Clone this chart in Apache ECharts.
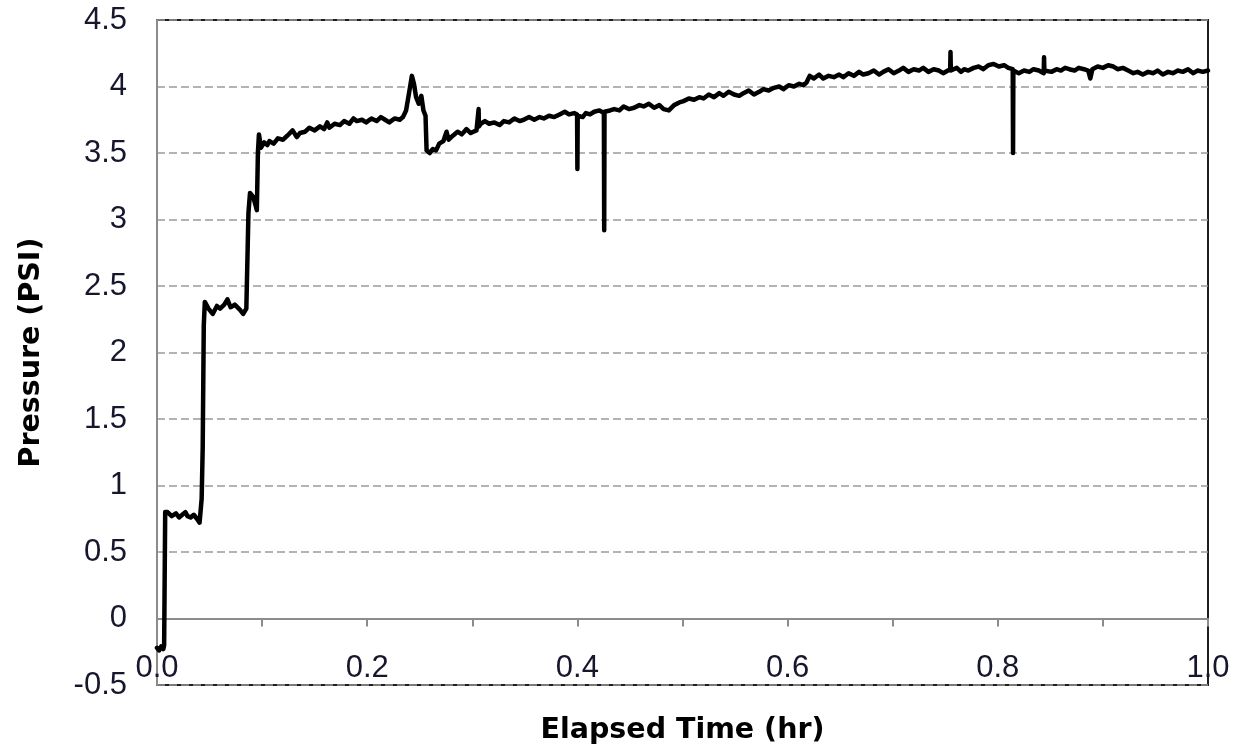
<!DOCTYPE html>
<html>
<head>
<meta charset="utf-8">
<title>Pressure vs Elapsed Time</title>
<script src="https://cdn.jsdelivr.net/npm/echarts@6/dist/echarts.min.js"></script>
<style>
  html, body { margin: 0; padding: 0; background: #fff; }
  #chart { width: 1239px; height: 750px; }
</style>
</head>
<body>
<div id="chart"></div>
<script>
// Elapsed time of each logged sample (hours)
const timeHr = [
  0.000, 0.002, 0.004, 0.006, 0.0068, 0.0078, 0.010, 0.014, 0.018, 0.021,
  0.024, 0.027, 0.029, 0.032, 0.035, 0.038, 0.0405, 0.0425, 0.0435, 0.0445,
  0.0455, 0.049, 0.053, 0.057, 0.060, 0.064, 0.067, 0.070, 0.074, 0.079,
  0.082, 0.085, 0.0870, 0.0885, 0.0915, 0.0940, 0.0950, 0.0960, 0.0970, 0.0990,
  0.102, 0.105, 0.107, 0.111, 0.115, 0.120, 0.124, 0.129, 0.133, 0.136,
  0.141, 0.145, 0.150, 0.155, 0.159, 0.162, 0.164, 0.169, 0.174, 0.178,
  0.183, 0.187, 0.190, 0.195, 0.199, 0.204, 0.209, 0.213, 0.217, 0.221,
  0.226, 0.231, 0.234, 0.237, 0.240, 0.2425, 0.2445, 0.2465, 0.249, 0.2515,
  0.2535, 0.2555, 0.2565, 0.2595, 0.2625, 0.2655, 0.2685, 0.2725, 0.2755, 0.2775,
  0.2815, 0.286, 0.290, 0.2945, 0.2985, 0.301, 0.304, 0.3057, 0.306, 0.3063,
  0.308, 0.312, 0.316, 0.321, 0.326, 0.330, 0.335, 0.340, 0.345, 0.349,
  0.354, 0.359, 0.364, 0.368, 0.373, 0.378, 0.383, 0.388, 0.392, 0.397,
  0.3997, 0.400, 0.4003, 0.402, 0.405, 0.408, 0.412, 0.416, 0.421, 0.4252,
  0.4255, 0.4258, 0.427, 0.431, 0.435, 0.440, 0.444, 0.449, 0.454, 0.459,
  0.463, 0.468, 0.473, 0.478, 0.482, 0.487, 0.492, 0.497, 0.501, 0.506,
  0.511, 0.516, 0.520, 0.525, 0.530, 0.535, 0.539, 0.544, 0.549, 0.554,
  0.558, 0.563, 0.568, 0.573, 0.577, 0.582, 0.587, 0.592, 0.596, 0.601,
  0.606, 0.611, 0.615, 0.618, 0.621, 0.625, 0.630, 0.634, 0.639, 0.644,
  0.649, 0.653, 0.658, 0.663, 0.668, 0.672, 0.677, 0.682, 0.687, 0.691,
  0.696, 0.701, 0.706, 0.710, 0.715, 0.720, 0.725, 0.729, 0.734, 0.739,
  0.744, 0.748, 0.7547, 0.755, 0.7553, 0.757, 0.761, 0.765, 0.768, 0.772,
  0.777, 0.782, 0.786, 0.791, 0.796, 0.801, 0.806, 0.810, 0.8142, 0.8145,
  0.8148, 0.816, 0.820, 0.825, 0.830, 0.834, 0.839, 0.8437, 0.844, 0.8443,
  0.846, 0.851, 0.856, 0.860, 0.864, 0.868, 0.873, 0.877, 0.882, 0.886,
  0.888, 0.890, 0.895, 0.900, 0.905, 0.910, 0.914, 0.919, 0.924, 0.929,
  0.933, 0.938, 0.943, 0.948, 0.952, 0.957, 0.962, 0.967, 0.971, 0.976,
  0.981, 0.986, 0.990, 0.995, 1.000
];

// Measured pressure at each sample (PSI)
const pressurePsi = [
  -0.22, -0.24, -0.21, -0.23, -0.20, 0.80, 0.80, 0.77, 0.79, 0.76,
  0.78, 0.80, 0.77, 0.76, 0.78, 0.75, 0.72, 0.90, 1.29, 2.20,
  2.38, 2.33, 2.29, 2.35, 2.33, 2.36, 2.40, 2.34, 2.36, 2.32,
  2.29, 2.33, 3.05, 3.20, 3.17, 3.10, 3.07, 3.50, 3.64, 3.54,
  3.58, 3.56, 3.59, 3.57, 3.61, 3.60, 3.63, 3.67, 3.62, 3.65,
  3.66, 3.69, 3.67, 3.70, 3.68, 3.73, 3.69, 3.72, 3.71, 3.74,
  3.72, 3.76, 3.74, 3.75, 3.73, 3.76, 3.74, 3.77, 3.75, 3.73,
  3.76, 3.75, 3.77, 3.82, 3.96, 4.08, 4.02, 3.92, 3.87, 3.93,
  3.82, 3.78, 3.52, 3.50, 3.53, 3.52, 3.57, 3.59, 3.66, 3.60,
  3.63, 3.66, 3.64, 3.68, 3.65, 3.66, 3.67, 3.68, 3.83, 3.70,
  3.72, 3.74, 3.72, 3.73, 3.71, 3.74, 3.73, 3.76, 3.74, 3.75,
  3.77, 3.75, 3.77, 3.76, 3.78, 3.77, 3.79, 3.81, 3.79, 3.80,
  3.79, 3.38, 3.78, 3.77, 3.77, 3.80, 3.79, 3.81, 3.82, 3.80,
  2.92, 3.81, 3.81, 3.82, 3.83, 3.82, 3.85, 3.83, 3.84, 3.86,
  3.85, 3.87, 3.84, 3.86, 3.83, 3.82, 3.86, 3.88, 3.89, 3.91,
  3.90, 3.92, 3.91, 3.94, 3.92, 3.95, 3.93, 3.96, 3.94, 3.93,
  3.95, 3.97, 3.94, 3.96, 3.98, 3.97, 3.99, 4.00, 3.98, 4.01,
  4.00, 4.02, 4.01, 4.03, 4.08, 4.06, 4.09, 4.06, 4.08, 4.07,
  4.09, 4.07, 4.10, 4.08, 4.11, 4.09, 4.10, 4.12, 4.09, 4.11,
  4.13, 4.10, 4.12, 4.14, 4.11, 4.13, 4.12, 4.14, 4.11, 4.13,
  4.12, 4.10, 4.13, 4.26, 4.12, 4.12, 4.14, 4.11, 4.13, 4.12,
  4.14, 4.15, 4.13, 4.16, 4.17, 4.15, 4.16, 4.14, 4.13, 3.50,
  4.12, 4.12, 4.10, 4.12, 4.11, 4.13, 4.12, 4.10, 4.22, 4.12,
  4.12, 4.11, 4.13, 4.12, 4.14, 4.13, 4.12, 4.14, 4.13, 4.12,
  4.06, 4.13, 4.15, 4.14, 4.16, 4.15, 4.13, 4.14, 4.12, 4.10,
  4.11, 4.09, 4.11, 4.10, 4.12, 4.09, 4.11, 4.10, 4.12, 4.11,
  4.13, 4.10, 4.12, 4.11, 4.12
];

// Axis ranges and steps
const xRange = { min: 0, max: 1, tickStep: 0.1, labelStep: 0.2 };
const yRange = { min: -0.5, max: 4.5, step: 0.5 };

const points = timeHr.map((t, i) => [t, pressurePsi[i]]);

const labelFont = { fontFamily: 'Liberation Sans, Arial, sans-serif', fontSize: 31, color: '#16162c' };
const titleFont = { fontFamily: 'DejaVu Sans, Verdana, sans-serif', fontSize: 28.5, fontWeight: 'bold', color: '#000' };

const chart = echarts.init(document.getElementById('chart'), null, { renderer: 'canvas' });
chart.setOption({
  animation: false,
  backgroundColor: '#fff',
  grid: {
    left: 157, right: 31, top: 20, bottom: 65,
    containLabel: false,
    outerBoundsMode: 'none',
    show: true, borderColor: '#1e1e1e', borderWidth: 2, backgroundColor: 'transparent'
  },
  xAxis: [
    {
      // zero line carrying the 0.1 h tick marks
      type: 'value',
      min: xRange.min, max: xRange.max, interval: xRange.tickStep,
      axisLine: { show: true, onZero: true, lineStyle: { color: '#8c8c8c', width: 2 } },
      axisTick: { show: true, inside: false, length: 8, lineStyle: { color: '#8c8c8c', width: 2 } },
      axisLabel: { show: false },
      splitLine: { show: false }
    },
    {
      // labels sit just above the bottom frame, title below it
      type: 'value',
      position: 'bottom',
      min: xRange.min, max: xRange.max, interval: xRange.labelStep,
      name: 'Elapsed Time (hr)',
      nameLocation: 'middle',
      nameGap: 31,
      nameTextStyle: titleFont,
      axisLine: { show: false, onZero: false },
      axisTick: { show: false },
      axisLabel: Object.assign({
        inside: true,
        margin: 1,
        formatter: v => v.toFixed(1)
      }, labelFont),
      splitLine: { show: false }
    }
  ],
  yAxis: {
    type: 'value',
    min: yRange.min, max: yRange.max, interval: yRange.step,
    name: 'Pressure (PSI)',
    nameLocation: 'middle',
    nameGap: 111,
    nameRotate: 90,
    nameTextStyle: titleFont,
    axisLine: { show: true, lineStyle: { color: '#8c8c8c', width: 2 } },
    axisTick: { show: false },
    axisLabel: Object.assign({ margin: 30 }, labelFont),
    splitLine: {
      show: true,
      lineStyle: { color: '#9a9a9a', width: 1.5, type: [8, 4] }
    }
  },
  series: [{
    type: 'line',
    xAxisIndex: 0,
    data: points,
    showSymbol: false,
    smooth: false,
    lineStyle: { color: '#000', width: 4.5, join: 'round', cap: 'round' },
    z: 3
  }]
});
</script>
</body>
</html>
